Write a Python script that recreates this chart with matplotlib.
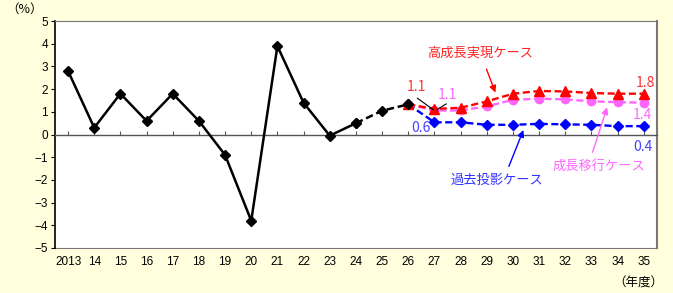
import matplotlib
matplotlib.use("Agg")
import matplotlib.pyplot as plt

plt.rcParams['font.family'] = ['Noto Sans CJK JP', 'DejaVu Sans']

years = ["2013", "14", "15", "16", "17", "18", "19", "20", "21", "22", "23",
         "24", "25", "26", "27", "28", "29", "30", "31", "32", "33", "34", "35"]
actual = [2.8, 0.3, 1.8, 0.6, 1.8, 0.6, -0.9, -3.8, 3.9, 1.4, -0.05, 0.5]
actual_est = [0.5, 1.05, 1.33]          # 2024-2026 (dashed)
high_growth = [1.33, 1.13, 1.18, 1.46, 1.8, 1.92, 1.9, 1.83, 1.8, 1.8]   # 2026-2035
transition = [1.33, 1.06, 1.06, 1.24, 1.53, 1.58, 1.55, 1.46, 1.43, 1.4]
past_proj = [1.33, 0.54, 0.54, 0.43, 0.43, 0.47, 0.45, 0.43, 0.37, 0.37]
yticks = [5, 4, 3, 2, 1, 0, -1, -2, -3, -4, -5]

bg = '#FFFFDD'
RED = '#FF0000'
PINK = '#FF66FF'
BLUE = '#0000FF'

fig = plt.figure(figsize=(6.73, 2.93), dpi=100, facecolor=bg)
ax = fig.add_axes([0.0817, 0.1536, 0.8943, 0.7744])
ax.set_facecolor('white')

x_all = list(range(len(years)))
x_act = x_all[:len(actual)]
x_est = x_all[11:14]
x_proj = x_all[13:]

dash = (0, (3, 1.5))
ax.plot(x_proj, past_proj, color=BLUE, ls=dash, lw=1.7, marker='D', ms=5.5, zorder=3)
ax.plot(x_proj, transition, color=PINK, ls=dash, lw=1.7, marker='o', ms=6, zorder=4)
ax.plot(x_proj, high_growth, color=RED, ls=dash, lw=1.7, marker='^', ms=6.5, zorder=5)
ax.plot(x_est, actual_est, color='black', ls=dash, lw=1.8, marker='D', ms=5.5, zorder=6)
ax.plot(x_act, actual, color='black', lw=1.8, marker='D', ms=5.5, zorder=6)

ax.set_xlim(-0.5, 22.5)
ax.set_ylim(-5, 5)
ax.set_yticks(yticks)
ax.tick_params(axis='y', direction='out', length=3, labelsize=8.5, pad=2)

# zero line with ticks
ax.spines['bottom'].set_position(('data', 0))
ax.spines['bottom'].set_color('#555555')
ax.spines['bottom'].set_linewidth(1.0)
ax.set_xticks(x_all)
ax.tick_params(axis='x', direction='in', length=3, labelbottom=False, color='#555555')

sec = ax.secondary_xaxis('bottom')
sec.set_xticks(x_all)
sec.set_xticklabels(years, fontfamily='Liberation Sans')
sec.tick_params(length=0, labelsize=8.5, pad=6)
sec.spines['bottom'].set_color('#777777')

for s in ['top', 'right']:
    ax.spines[s].set_color('#777777')
ax.spines['right'].set_linewidth(1.5)
ax.spines['left'].set_color('black')
ax.spines['left'].set_linewidth(1.2)

for lab in ax.get_yticklabels():
    lab.set_fontfamily('Liberation Sans')

# annotations
fs = 9.5
ax.annotate('高成長実現ケース', xy=(16.33, 1.85), xytext=(15.76, 3.58),
            color='#FF2222', fontsize=fs, ha='center', va='center',
            arrowprops=dict(arrowstyle='-|>', color=RED, lw=1.0, shrinkA=5, shrinkB=0,
                            mutation_scale=10))
ax.annotate('過去投影ケース', xy=(17.4, 0.2), xytext=(16.37, -2.04),
            color='#3333FF', fontsize=fs, ha='center', va='center',
            arrowprops=dict(arrowstyle='-|>', color=BLUE, lw=1.0, shrinkA=4, shrinkB=0,
                            mutation_scale=10, relpos=(0.6, 1.0)))
ax.annotate('成長移行ケース', xy=(20.6, 1.2), xytext=(20.3, -1.42),
            color=PINK, fontsize=fs, ha='center', va='center',
            arrowprops=dict(arrowstyle='-|>', color=PINK, lw=1.0, shrinkA=4, shrinkB=0,
                            mutation_scale=10, relpos=(0.4, 1.0)))

nfs = 10
ax.text(13.3, 2.08, '1.1', color='#FF3333', fontsize=nfs, ha='center', va='center')
ax.text(14.5, 1.73, '1.1', color=PINK, fontsize=nfs, ha='center', va='center')
ax.plot([13.35, 13.95], [1.6, 1.1], color='black', lw=0.8, zorder=7)
ax.plot([14.1, 14.45], [1.1, 1.35], color='black', lw=0.8, zorder=7)
ax.text(13.47, 0.27, '0.6', color='#4444FF', fontsize=nfs, ha='center', va='center')
ax.text(22.07, 2.26, '1.8', color='#FF3333', fontsize=nfs, ha='center', va='center')
ax.text(21.96, 0.84, '1.4', color=PINK, fontsize=nfs, ha='center', va='center')
ax.text(21.96, -0.53, '0.4', color='#4444FF', fontsize=nfs, ha='center', va='center')

fig.text(6 / 673, 1 - 9 / 293, '（%）', fontsize=9, ha='left', va='center')
fig.text(1 - 10 / 673, 1 - 283 / 293, '（年度）', fontsize=9, ha='right', va='center')

fig.savefig('out.png', dpi=100, facecolor=bg)
